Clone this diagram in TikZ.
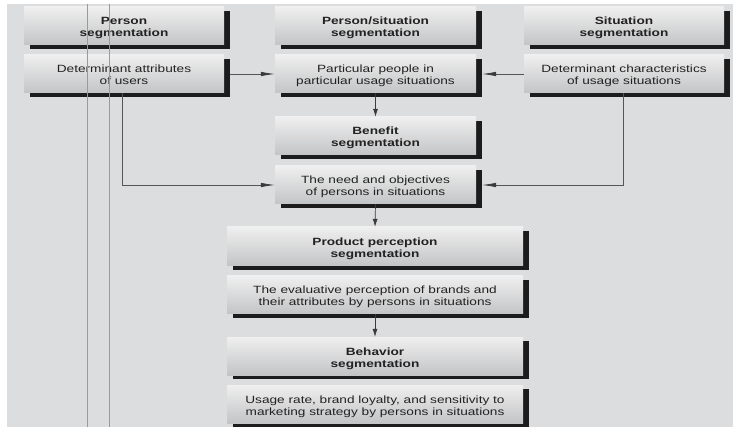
\documentclass[tikz,border=0pt]{standalone}
\usepackage{fontspec}
\setmainfont[FakeStretch=1.3]{Liberation Sans}
\usetikzlibrary{shadows,arrows.meta}
\definecolor{bg}{HTML}{DCDDDF}
\definecolor{boxtop}{HTML}{EFEFEF}
\definecolor{boxbot}{HTML}{C3C4C6}
\definecolor{shadowc}{HTML}{1C1C1C}
\definecolor{txt}{HTML}{222222}
\definecolor{conn}{HTML}{3A3A3A}
\definecolor{hconn}{HTML}{555555}
\definecolor{guide}{HTML}{9A9A9A}
\tikzset{
  box/.style={minimum width=200pt, minimum height=38pt, inner sep=0pt,
    top color=boxtop, bottom color=boxbot, draw=none, align=center,
    font=\fontsize{10.5}{12}\selectfont, text=txt,
    text height=25pt, text depth=3pt,
    drop shadow={shadow xshift=6pt, shadow yshift=-4pt, fill=shadowc, opacity=1}},
  headbox/.style={box, font=\fontsize{10.5}{12}\selectfont\bfseries},
  wide/.style={minimum width=296pt},
  conline/.style={draw=conn, line width=0.7pt},
  harrow/.style={draw=hconn, line width=0.7pt, -{Latex[length=14pt,width=4.5pt,color=conn]}},
  varrow/.style={conline, -{Latex[length=8pt,width=5pt]}},
  guideline/.style={draw=guide, line width=0.6pt}
}
\begin{document}
\begin{tikzpicture}[x=1pt,y=-1pt]
\useasboundingbox (0,0) rectangle (733,427);
\fill[white] (0,0) rectangle (733,427);
\fill[bg] (7,4) rectangle (733,427);

\node[headbox] (P1) at (124,26) {Person\\segmentation};
\node[box] (D1) at (124,74) {Determinant attributes\\of users};
\node[headbox, minimum width=201pt] (PS) at (375.5,26) {Person/situation\\segmentation};
\node[box, minimum width=201pt] (PP) at (375.5,74) {Particular people in\\particular usage situations};
\node[headbox, minimum width=201pt] (BEN) at (375.5,136) {Benefit\\segmentation};
\node[box, minimum width=201pt] (NEED) at (375.5,185) {The need and objectives\\of persons in situations};
\node[headbox] (S) at (624,26) {Situation\\segmentation};
\node[box] (DC) at (624,74) {Determinant characteristics\\of usage situations};
\node[headbox, wide, minimum height=39pt] (PROD) at (375,246.5) {Product perception\\segmentation};
\node[box, wide] (EVAL) at (375,295) {The evaluative perception of brands and\\their attributes by persons in situations};
\node[headbox, wide] (BEH) at (375,356) {Behavior\\segmentation};
\node[box, wide] (USE) at (375,404) {Usage rate, brand loyalty, and sensitivity to\\marketing strategy by persons in situations};

\draw[harrow] ([xshift=6pt]D1.east) -- (PP.west);
\draw[harrow] (DC.west) -- ([xshift=6pt]PP.east);
\draw[varrow] (PP.south) -- (BEN.north);
\draw[harrow] ([xshift=-2pt]D1.south) |- (NEED.west);
\draw[harrow] ([xshift=-1pt]DC.south) |- ([xshift=6pt]NEED.east);
\draw[varrow] (NEED.south) -- (PROD.north);
\draw[varrow] (EVAL.south) -- (BEH.north);

\draw[guideline] (87,4) -- (87,427);
\draw[guideline] (109,4) -- (109,427);
\end{tikzpicture}
\end{document}
